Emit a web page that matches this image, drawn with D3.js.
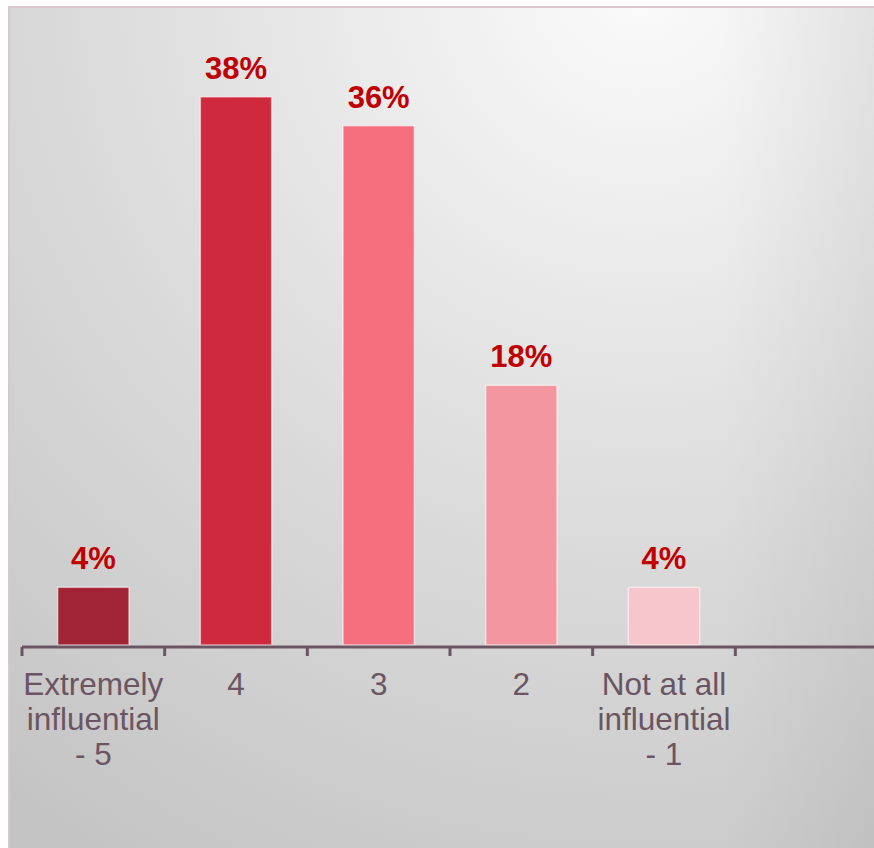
<!DOCTYPE html>
<html>
<head>
<meta charset="utf-8">
<script src="https://cdn.jsdelivr.net/npm/d3@7"></script>
<style>
  html, body { margin: 0; padding: 0; background: #ffffff; }
  svg { display: block; }
</style>
</head>
<body>
<svg id="chart" width="874" height="848"></svg>
<script>
// Survey responses: how influential, 5-point scale
const categories = ["Extremely influential - 5", "4", "3", "2", "Not at all influential - 1"];
const labelLines = [["Extremely", "influential", "- 5"], ["4"], ["3"], ["2"], ["Not at all", "influential", "- 1"]];
const values = [0.04, 0.38, 0.36, 0.18, 0.04];
const barColors = ["#a12434", "#cf293e", "#f56f7e", "#f4969f", "#f6c6cc"];

const W = 874, H = 848;
const svg = d3.select("#chart");
const defs = svg.append("defs");

// Soft light-gray backdrop, brightest near the top right
const bg = defs.append("radialGradient")
  .attr("id", "bgGrad")
  .attr("gradientUnits", "userSpaceOnUse")
  .attr("cx", 640).attr("cy", -20).attr("r", 1050);
bg.append("stop").attr("offset", 0).attr("stop-color", "#fbfbfb");
bg.append("stop").attr("offset", 0.2).attr("stop-color", "#efefef");
bg.append("stop").attr("offset", 0.55).attr("stop-color", "#dadada");
bg.append("stop").attr("offset", 1).attr("stop-color", "#c3c3c3");

const edge = defs.append("linearGradient")
  .attr("id", "edgeGrad")
  .attr("x1", 0).attr("x2", 1).attr("y1", 0).attr("y2", 0);
edge.append("stop").attr("offset", 0).attr("stop-color", "#000").attr("stop-opacity", 0);
edge.append("stop").attr("offset", 1).attr("stop-color", "#000").attr("stop-opacity", 0.05);

const frameX = 8, frameY = 6;
svg.append("rect")
  .attr("x", frameX).attr("y", frameY)
  .attr("width", W - frameX).attr("height", H - frameY)
  .attr("fill", "url(#bgGrad)");
svg.append("rect")
  .attr("x", 720).attr("y", frameY)
  .attr("width", W - 720).attr("height", H - frameY)
  .attr("fill", "url(#edgeGrad)");

// Frame edges (top and left)
svg.append("path")
  .attr("d", `M${frameX + 1},${H} V${frameY + 1} H${W}`)
  .attr("fill", "none")
  .attr("stroke", "#dbc6cd")
  .attr("stroke-width", 2);

// Scales: one spare slot after the last category keeps the axis running on
const x = d3.scaleBand()
  .domain([...categories, ""])
  .range([22, 878])
  .paddingInner(0)
  .paddingOuter(0);

const baseY = 645;
const y = d3.scaleLinear().domain([0, 0.4]).range([baseY, baseY - 577]);

const barW = x.bandwidth() * 0.5;

// Bars
svg.append("g").selectAll("rect")
  .data(categories)
  .join("rect")
  .attr("x", (d) => x(d) + (x.bandwidth() - barW) / 2)
  .attr("y", (d, i) => y(values[i]))
  .attr("width", barW)
  .attr("height", (d, i) => baseY - y(values[i]))
  .attr("fill", (d, i) => barColors[i])
  .attr("stroke", "rgba(255,255,255,0.55)")
  .attr("stroke-width", 1.5);

// Value labels
svg.append("g").selectAll("text")
  .data(categories)
  .join("text")
  .attr("x", (d) => x(d) + x.bandwidth() / 2)
  .attr("y", (d, i) => y(values[i]) - 18)
  .attr("text-anchor", "middle")
  .attr("font-family", "'Liberation Sans', Arial, sans-serif")
  .attr("font-weight", "bold")
  .attr("font-size", 31)
  .attr("fill", "#c00000")
  .text((d, i) => d3.format(".0%")(values[i]));

// Category axis
const axisColor = "#6b5562";
const axisY = 647;
const axisG = svg.append("g");
axisG.append("line")
  .attr("x1", x.range()[0]).attr("x2", W)
  .attr("y1", axisY).attr("y2", axisY)
  .attr("stroke", axisColor)
  .attr("stroke-width", 3);
axisG.selectAll("line.tick")
  .data(x.domain())
  .join("line")
  .attr("class", "tick")
  .attr("x1", (d) => x(d)).attr("x2", (d) => x(d))
  .attr("y1", axisY).attr("y2", axisY + 9)
  .attr("stroke", axisColor)
  .attr("stroke-width", 3);

const tickText = axisG.selectAll("text")
  .data(categories)
  .join("text")
  .attr("x", (d) => x(d) + x.bandwidth() / 2)
  .attr("y", 695)
  .attr("text-anchor", "middle")
  .attr("font-family", "'Liberation Sans', Arial, sans-serif")
  .attr("font-size", 31.5)
  .attr("fill", axisColor);
tickText.selectAll("tspan")
  .data((d, i) => labelLines[i].map((t) => ({ t, cx: x(d) + x.bandwidth() / 2 })))
  .join("tspan")
  .attr("x", (d) => d.cx)
  .attr("dy", (d, j) => (j === 0 ? 0 : 35))
  .text((d) => d.t);
</script>
</body>
</html>
